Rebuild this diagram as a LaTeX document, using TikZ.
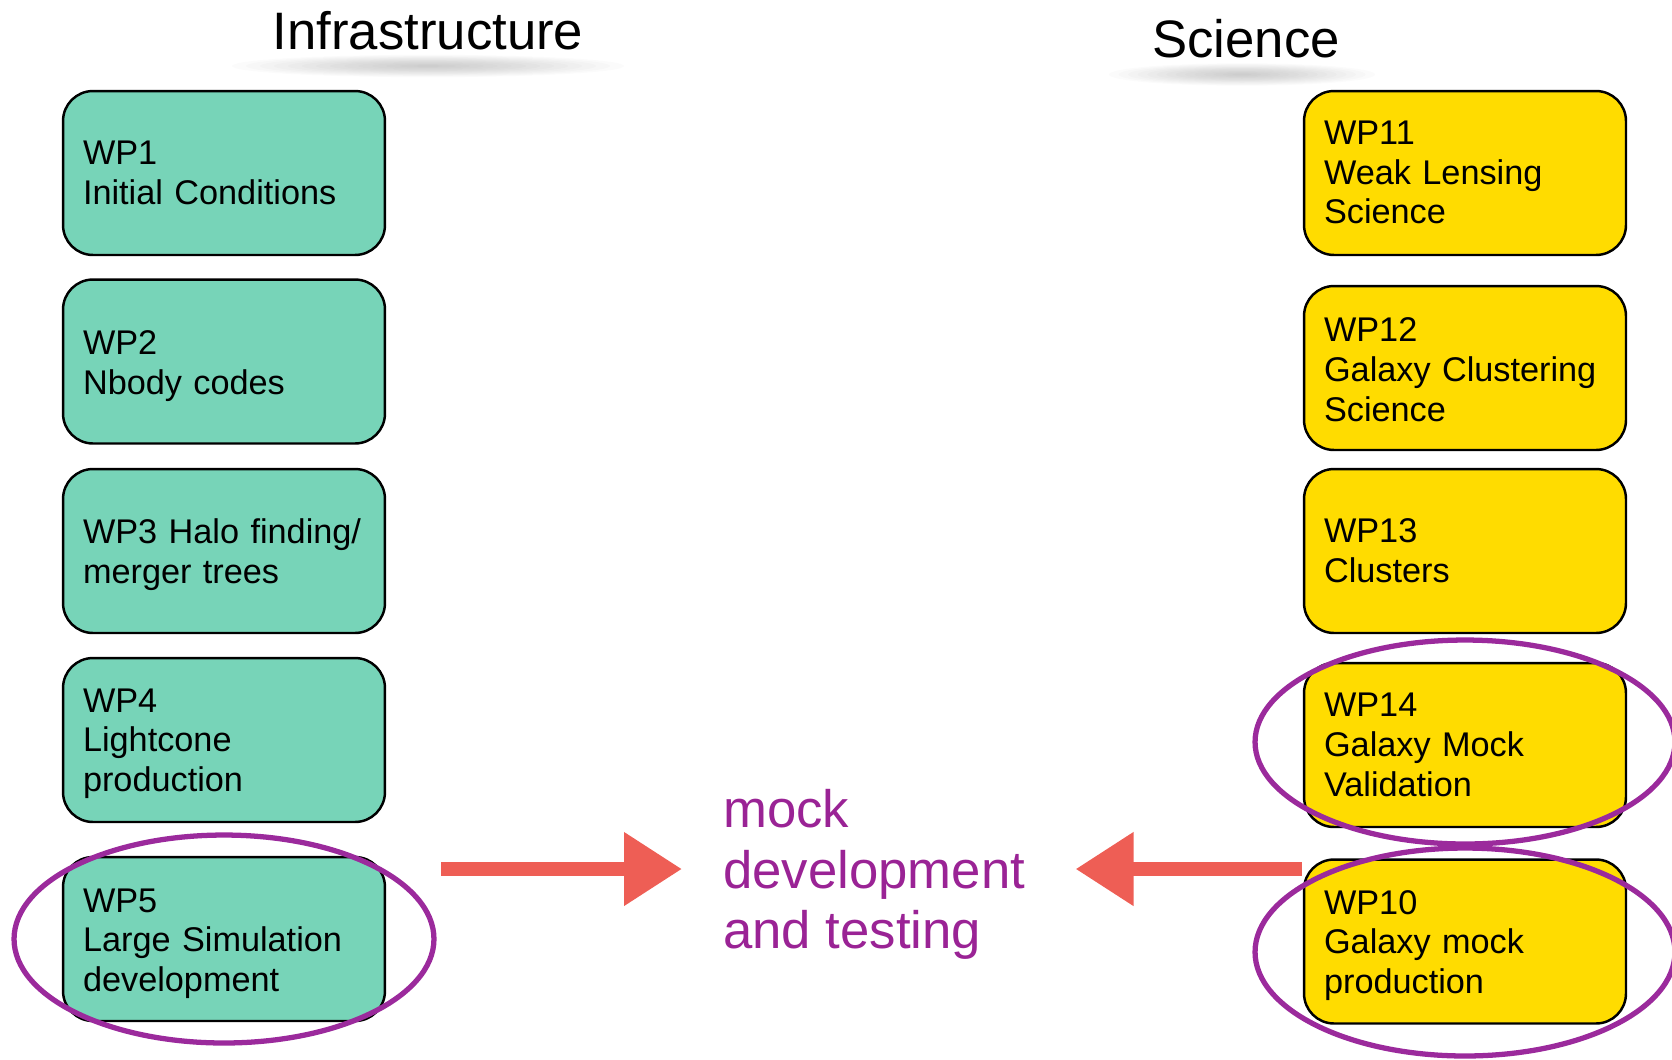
\documentclass[tikz,border=0pt]{standalone}
\usepackage{fontspec}
\setmainfont{Liberation Sans}
\usetikzlibrary{arrows.meta}

\definecolor{wpteal}{HTML}{77D4B8}
\definecolor{wpyellow}{HTML}{FFDC00}
\definecolor{ringpurple}{HTML}{9B2A9C}
\definecolor{mockpurple}{HTML}{9A2395}
\definecolor{chalkred}{HTML}{EE5E55}

\begin{document}
\begin{tikzpicture}[x=0.02cm,y=-0.02cm,
  wpbox/.style={draw=black, line width=1.4pt, rounded corners=0.6cm,
    minimum width=6.44cm, minimum height=3.28cm, text width=5.64cm,
    inner xsep=0.4cm, inner ysep=0pt, align=left,
    font=\fontsize{19.5}{22.7}\selectfont},
  infra/.style={wpbox, fill=wpteal},
  sci/.style={wpbox, fill=wpyellow},
  lowered/.style={text height=#1},
  heading/.style={font=\fontsize{30}{36}\selectfont, anchor=base, inner sep=0pt},
  ring/.style={draw=ringpurple, line width=3pt},
  chalkarrow/.style={draw=chalkred, line width=0.28cm,
    -{Triangle[length=1.16cm,width=1.4cm]}},
]
\useasboundingbox (0,0) rectangle (1672,1059);

% column headings with soft shadows beneath
\node[heading] (infra) at (428,49) {Infrastructure};
\node[heading] (sci) at (1246,57) {Science};
\foreach \k in {1,...,14} {
  \fill[black, opacity=0.016] ([yshift=-0.34cm]infra.base)
    ellipse [x radius=\k*0.28cm, y radius=\k*0.016cm];
  \fill[black, opacity=0.016] ([xshift=-0.08cm,yshift=-0.35cm]sci.base)
    ellipse [x radius=\k*0.19cm, y radius=\k*0.016cm];
}

% infrastructure work packages
\node[infra] (wp1) at (224,173)   {WP1\\Initial Conditions};
\node[infra, lowered=18.8pt] (wp2) at (224,361.5) {WP2\\Nbody codes};
\node[infra, lowered=17.8pt] (wp3) at (224,551)   {WP3 Halo finding/\\merger trees};
\node[infra, lowered=17.6pt] (wp4) at (224,740)   {WP4\\Lightcone\\production};
\node[infra, lowered=18.8pt] (wp5) at (224,939)   {WP5\\Large Simulation\\development};

% science work packages
\node[sci, lowered=12.8pt] (wp11) at (1465,173) {WP11\\Weak Lensing\\Science};
\node[sci, lowered=15.2pt] (wp12) at (1465,368) {WP12\\Galaxy Clustering\\Science};
\node[sci] (wp13) at (1465,551)   {WP13\\Clusters};
\node[sci] (wp14) at (1465,745)   {WP14\\Galaxy Mock\\Validation};
\node[sci, lowered=18.2pt] (wp10) at (1465,941.5) {WP10\\Galaxy mock\\production};

% highlighted packages
\draw[ring] (wp5.center) ellipse [x radius=4.2cm, y radius=2.08cm];
\draw[ring] ([yshift=0.06cm]wp14.center) ellipse [x radius=4.2cm, y radius=2.04cm];
\draw[ring] ([yshift=-0.21cm]wp10.center) ellipse [x radius=4.2cm, y radius=2.08cm];

% central label and the two arrows pointing at it
\node[anchor=west, inner sep=0pt, align=left, text=mockpurple,
  font=\fontsize{30}{34.6}\selectfont] (mock) at (723,874.5)
  {mock\\development\\and testing};
\draw[chalkarrow, shorten <=1.1cm, shorten >=0.82cm]
  ([yshift=0.11cm]wp5.east |- mock.west) -- ([yshift=0.11cm]mock.west);
\draw[chalkarrow, shorten <=0.02cm, shorten >=1.0cm]
  ([yshift=0.11cm]wp10.west |- mock.east) -- ([yshift=0.11cm]mock.east);
\end{tikzpicture}
\end{document}
